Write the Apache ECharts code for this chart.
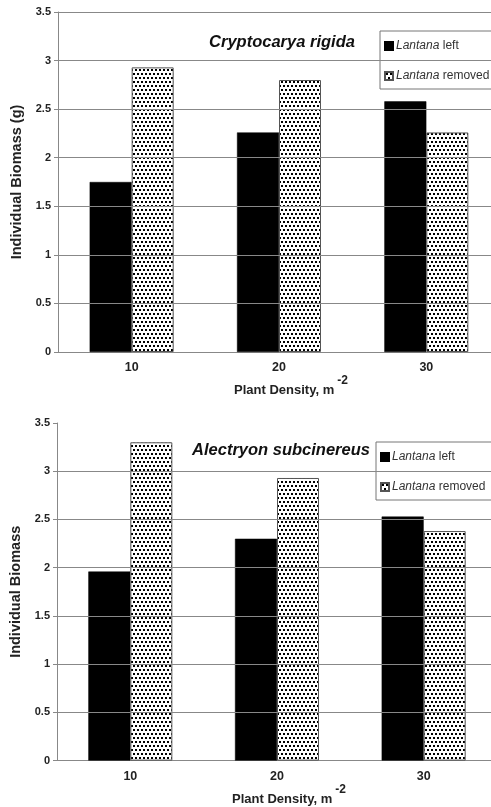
<!DOCTYPE html>
<html>
<head>
<meta charset="utf-8">
<script src="https://cdn.jsdelivr.net/npm/echarts@6/dist/echarts.min.js"></script>
<style>
html,body{margin:0;padding:0;background:#fff;overflow:hidden;}
#c{width:512px;height:807px;}
</style>
</head>
<body>
<div id="c"></div>
<script>
// ---- data ----
const categories = ['10', '20', '30'];
const seriesNames = ['Lantana left', 'Lantana removed'];
const titles = ['Cryptocarya rigida', 'Alectryon subcinereus'];
const topLeft = [1.75, 2.26, 2.58];
const topRemoved = [2.93, 2.80, 2.26];
const botLeft = [1.96, 2.30, 2.53];
const botRemoved = [3.30, 2.93, 2.38];
const topGridValues = [0.5, 1, 1.5, 2, 2.5, 3, 3.5];
const botGridValues = [0.5, 1, 1.5, 2, 2.5, 3];
const yNames = ['Individual Biomass (g)', 'Individual Biomass'];
const xName = 'Plant Density, m{sup|-2}';

// ---- dotted pattern ----
function makePattern() {
  const cv = document.createElement('canvas');
  cv.width = 8; cv.height = 8;
  const g = cv.getContext('2d');
  g.fillStyle = '#fff'; g.fillRect(0, 0, 8, 8);
  g.fillStyle = '#000';
  g.fillRect(1, 1, 2, 2);
  g.fillRect(5, 1, 2, 2);
  g.fillRect(3, 5, 2, 2);
  g.fillRect(7, 5, 1, 2);
  g.fillRect(0, 5, 1, 2);
  return cv;
}
const pattern = { image: makePattern(), repeat: 'repeat' };

const font = 'Liberation Sans, Arial, sans-serif';
const grids = [
  { left: 58, top: 12, width: 442, height: 340 },
  { left: 57, top: 423, width: 440, height: 339 }
];

function xAxis(i) {
  return {
    type: 'category', gridIndex: i, data: categories,
    axisLine: { lineStyle: { color: '#888', width: 1 } },
    axisTick: { show: false },
    axisLabel: { color: '#222', fontFamily: font, fontWeight: 'bold', fontSize: 12.5, margin: 9 },
    name: xName, nameLocation: 'middle', nameGap: 20,
    nameTextStyle: {
      color: '#222', fontFamily: font, fontWeight: 'bold', fontSize: 13,
      padding: [0, 0, 0, 24],
      rich: { sup: { fontFamily: font, fontWeight: 'bold', fontSize: 12, color: '#222', padding: [0, 0, 20, 3] } }
    }
  };
}
function yAxis(i) {
  return {
    type: 'value', gridIndex: i, min: 0, max: 3.5, interval: 0.5,
    axisLine: { show: true, lineStyle: { color: '#888', width: 1 } },
    axisTick: { show: true, length: 4, lineStyle: { color: '#888' } },
    splitLine: { show: false },
    axisLabel: { color: '#222', fontFamily: font, fontWeight: 'bold', fontSize: 11, margin: 7,
      formatter: v => String(v) },
    name: yNames[i], nameLocation: 'middle', nameGap: 31,
    nameTextStyle: { color: '#222', fontFamily: font, fontWeight: 'bold', fontSize: 14.5 }
  };
}
function gridSeries(i, vals) {
  return {
    type: 'line', xAxisIndex: i, yAxisIndex: i, data: [], z: 1, silent: true,
    markLine: {
      silent: true, symbol: 'none', label: { show: false },
      lineStyle: { color: '#888', width: 1, type: 'solid' },
      data: vals.map(v => ({ yAxis: v }))
    }
  };
}
function bars(i, left, removed) {
  return [
    { name: seriesNames[0], type: 'bar', xAxisIndex: i, yAxisIndex: i, data: left,
      barWidth: 42, barGap: '0%', z: 3,
      itemStyle: { color: '#000', borderColor: '#000', borderWidth: 0.5 } },
    { name: seriesNames[1], type: 'bar', xAxisIndex: i, yAxisIndex: i, data: removed,
      barWidth: 42, barGap: '0%', z: 3,
      itemStyle: { color: pattern, borderColor: '#555', borderWidth: 1 } }
  ];
}
function legend(id, top, left) {
  return {
    id: id,
    orient: 'vertical', left: left, top: top, itemWidth: 8, itemHeight: 8, itemGap: 18,
    backgroundColor: '#fff', borderColor: '#777', borderWidth: 1,
    padding: [9, 30, 7, 4],
    icon: 'rect', selectedMode: false,
    data: seriesNames.map(n => ({ name: n })),
    formatter: n => n.replace('Lantana', '{i|Lantana}'),
    textStyle: { color: '#333', fontFamily: font, fontSize: 12, padding: [0, 0, 0, -2],
      rich: { i: { fontStyle: 'italic', color: '#333', fontFamily: font, fontSize: 12 } } }
  };
}

const chart = echarts.init(document.getElementById('c'), null, { renderer: 'canvas' });
chart.setOption({
  animation: false,
  backgroundColor: '#fff',
  title: [
    { text: titles[0], left: 277, top: 29, textAlign: 'center',
      textStyle: { fontFamily: font, fontWeight: 'bold', fontStyle: 'italic', fontSize: 16.5, color: '#111' } },
    { text: titles[1], left: 276, top: 437, textAlign: 'center',
      textStyle: { fontFamily: font, fontWeight: 'bold', fontStyle: 'italic', fontSize: 16.5, color: '#111' } }
  ],
  legend: [legend('l0', 31, 380), legend('l1', 442, 376)],
  grid: grids,
  xAxis: [xAxis(0), xAxis(1)],
  yAxis: [yAxis(0), yAxis(1)],
  series: [
    gridSeries(0, topGridValues),
    gridSeries(1, botGridValues),
    ...bars(0, topLeft, topRemoved),
    ...bars(1, botLeft, botRemoved)
  ]
});
</script>
</body>
</html>
